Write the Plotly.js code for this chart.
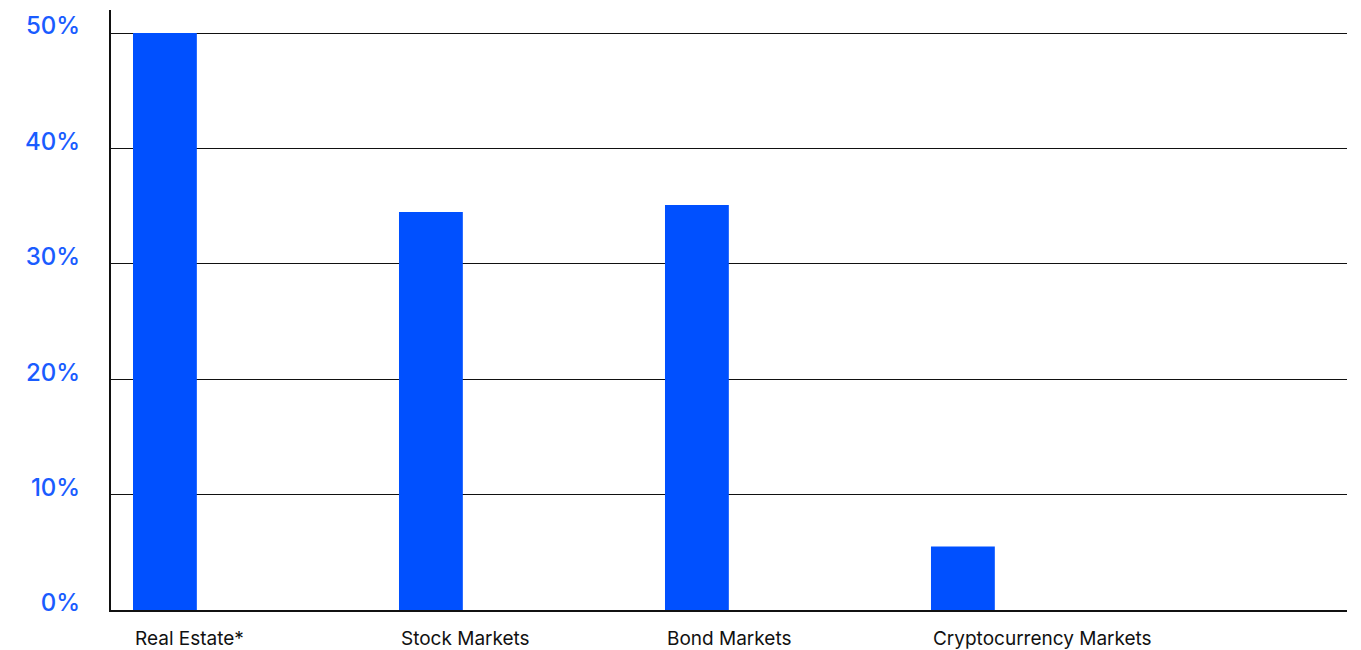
<!DOCTYPE html>
<html>
<head>
<meta charset="utf-8">
<script src="https://cdn.plot.ly/plotly-3.0.1.min.js"></script>
<style>html,body{margin:0;padding:0;background:#fff;}#chart{width:1361px;height:650px;}</style>
</head>
<body>
<div id="chart"></div>
<script>
const categories = ["Real Estate*", "Stock Markets", "Bond Markets", "Cryptocurrency Markets"];
const values = [50, 34.5, 35.1, 5.5];
const yTickVals = [0, 10, 20, 30, 40, 50];
const yTickText = ["0%", "10%", "20%", "30%", "40%", "50%"];

const trace = {
  type: "bar",
  x: categories,
  y: values,
  width: 0.24,
  offset: 0,
  marker: {color: "#0050FF"},
  hoverinfo: "x+y"
};

const layout = {
  width: 1361, height: 650,
  margin: {l: 111, r: 14, t: 10, b: 40, pad: 0},
  paper_bgcolor: "#fff", plot_bgcolor: "#fff",
  showlegend: false,
  font: {family: "Inter, 'Noto Sans', sans-serif"},
  xaxis: {
    type: "category",
    range: [-0.0827, 4.564],
    showgrid: false,
    zeroline: false,
    showline: true, linecolor: "#111", linewidth: 2,
    ticks: "", ticklabelposition: "outside right",
    tickfont: {size: 19, color: "#111", family: "Inter, 'Noto Sans', sans-serif"},
    ticklabelstandoff: 10,
    ticklabelshift: 1
  },
  yaxis: {
    range: [0, 52],
    tickvals: yTickVals, ticktext: yTickText,
    showgrid: true, gridcolor: "#111", gridwidth: 1,
    zeroline: false,
    showline: true, linecolor: "#111", linewidth: 2,
    ticks: "outside", ticklen: 24, tickcolor: "rgba(0,0,0,0)",
    tickfont: {size: 24, color: "#1a5cff", family: "Inter, 'Noto Sans', sans-serif", weight: 500},
    ticklabelshift: -7
  }
};

Plotly.newPlot("chart", [trace], layout, {displayModeBar: false, staticPlot: true});
</script>
</body>
</html>
